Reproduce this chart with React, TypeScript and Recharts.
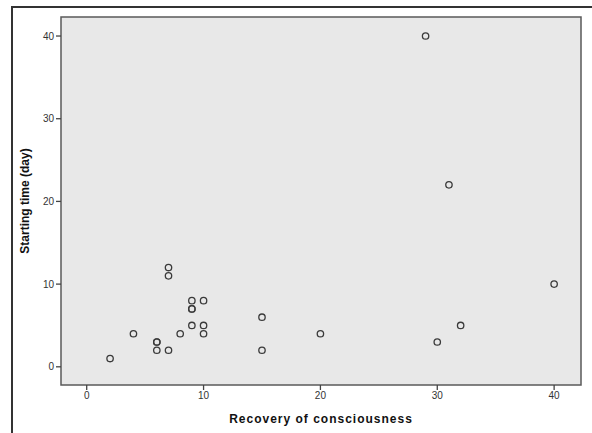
import React from "react";
import { ReferenceArea, Scatter, ScatterChart, XAxis, YAxis } from "recharts";

// Recovery of consciousness (x) vs starting time in days (y)
const recovery = [2, 4, 6, 6, 6, 7, 7, 7, 8, 9, 9, 9, 9, 10, 10, 10, 15, 15, 20, 29, 30, 31, 32, 40];
const starting = [1, 4, 3, 3, 2, 2, 12, 11, 4, 8, 7, 7, 5, 8, 5, 4, 6, 2, 4, 40, 3, 22, 5, 10];
const xTicks = [0, 10, 20, 30, 40];
const yTicks = [0, 10, 20, 30, 40];
const xDomain: [number, number] = [-2.2, 42.3];
const yDomain: [number, number] = [-2.2, 42.3];

const points = recovery.map((x, i) => ({ x, y: starting[i] }));

const font = "'Liberation Sans', Arial, sans-serif";
const tickStyle = { fill: "#333", fontSize: 10, fontFamily: font };

function OpenCircle(props: any) {
  const { cx, cy } = props;
  return <circle cx={cx} cy={cy} r={3.2} fill="none" stroke="#3a3a3a" strokeWidth={1.3} />;
}

export default function App() {
  return (
    <div style={{ position: "absolute", left: 0, top: 0, width: 592, height: 433, background: "#fff" }}>
      <div
        style={{
          position: "absolute",
          left: 11,
          top: 6,
          width: 581,
          height: 427,
          borderTop: "2px solid #333",
          borderLeft: "2px solid #333",
          boxSizing: "border-box",
        }}
      />
      <div style={{ position: "absolute", left: 0, top: 0 }}>
        <ScatterChart width={592} height={433} margin={{ top: 17, right: 11, left: 0, bottom: 0 }}>
          <ReferenceArea
            x1={xDomain[0]}
            x2={xDomain[1]}
            y1={yDomain[0]}
            y2={yDomain[1]}
            fill="#e8e8e8"
            fillOpacity={1}
            stroke="#5a5a5a"
            strokeWidth={1.5}
          />
          <XAxis
            type="number"
            dataKey="x"
            domain={xDomain}
            ticks={xTicks}
            allowDataOverflow
            height={48}
            tickSize={5}
            tick={tickStyle}
            axisLine={false}
            tickLine={{ stroke: "#444", strokeWidth: 1.3 }}
            label={{
              value: "Recovery of consciousness",
              position: "insideBottom",
              offset: 10,
              style: { fontFamily: font, fontWeight: 700, fontSize: 12, letterSpacing: 1, fill: "#111" },
            }}
          />
          <YAxis
            type="number"
            dataKey="y"
            domain={yDomain}
            ticks={yTicks}
            allowDataOverflow
            width={61}
            tickSize={5}
            tick={tickStyle}
            axisLine={false}
            tickLine={{ stroke: "#444", strokeWidth: 1.3 }}
            label={{
              content: (p: any) => {
                const vb = p.viewBox || {};
                const cx = vb.x + 25;
                const cy = vb.y + vb.height / 2;
                return (
                  <text
                    x={cx}
                    y={cy}
                    transform={`rotate(-90 ${cx} ${cy})`}
                    textAnchor="middle"
                    dominantBaseline="central"
                    style={{ fontFamily: font, fontWeight: 700, fontSize: 12, fill: "#111" }}
                  >
                    Starting time (day)
                  </text>
                );
              },
            }}
          />
          <Scatter data={points} shape={OpenCircle} isAnimationActive={false} />
        </ScatterChart>
      </div>
    </div>
  );
}
